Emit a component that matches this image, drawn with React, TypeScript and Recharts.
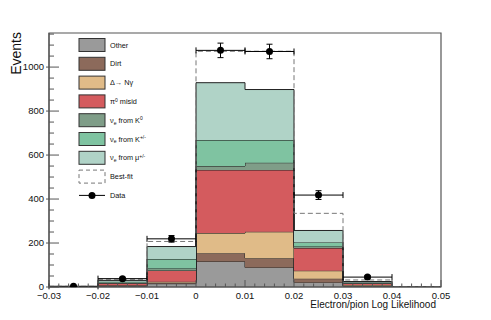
import { Area, ComposedChart, ErrorBar, Legend, Line, ReferenceArea, Scatter, XAxis, YAxis } from 'recharts'

// bin low edges, the last edge closes the final step
const binEdges = [-0.03, -0.02, -0.01, 0, 0.01, 0.02, 0.03, 0.04, 0.05]

// stacked MC components (events per bin), bottom to top
const other = [1, 3, 15, 116, 89, 21, 3, 0, 0]
const dirt = [0.2, 2, 4, 38, 42, 17, 2, 0, 0]
const deltaNGamma = [0.3, 3, 5, 91, 120, 36, 4, 0, 0]
const pi0Misid = [0.5, 9, 51, 287, 281, 103, 7, 0, 0]
const nueK0 = [0.1, 2, 9, 18, 33, 7, 1, 0, 0]
const nueKpm = [0.2, 5, 43, 118, 103, 20, 3, 0, 0]
const nueMu = [0.3, 6, 57, 261, 230, 53, 5, 0, 0]
const bestFit = [3, 35, 207, 1072, 1072, 335, 32, 0, 0]

// data points at bin centres
const dataX = [-0.025, -0.015, -0.005, 0.005, 0.015, 0.025, 0.035]
const dataCounts = [3, 38, 219, 1076, 1071, 418, 45]
const dataErrors = [2, 6, 15, 33, 33, 20, 7]
const dataHalfWidth = [0.005, 0.005, 0.005, 0.005, 0.005, 0.005, 0.005]

const xMajorTicks = [-0.03, -0.02, -0.01, 0, 0.01, 0.02, 0.03, 0.04, 0.05]
const xTickLabels = ['\u22120.03', '\u22120.02', '\u22120.01', '0', '0.01', '0.02', '0.03', '0.04', '0.05']
const yMajorTicks = [0, 200, 400, 600, 800, 1000]
const yTickLabels = ['0', '200', '400', '600', '800', '1000']

const FONT = '"Liberation Sans", Arial, Helvetica, sans-serif'
const AXIS = '#555'

const layers = [
  { key: 'other', color: '#9a9a9a', values: other },
  { key: 'dirt', color: '#8c6a5b', values: dirt },
  { key: 'delta', color: '#e0bb88', values: deltaNGamma },
  { key: 'pi0', color: '#d45b5e', values: pi0Misid },
  { key: 'k0', color: '#7f9d88', values: nueK0 },
  { key: 'kpm', color: '#7fc3a1', values: nueKpm },
  { key: 'mu', color: '#b0d3c7', values: nueMu },
]

const rows = binEdges.map((x, i) => {
  const row: Record<string, number> = { x, fit: bestFit[i] }
  layers.forEach((l) => {
    row[l.key] = l.values[i]
  })
  return row
})

const points = dataX.map((x, i) => ({ x, y: dataCounts[i], ey: dataErrors[i], ex: dataHalfWidth[i] }))

// minor ticks: 5 divisions per major on x, 4 on y
const xTicks: number[] = []
xMajorTicks.forEach((t, i) => {
  if (i === xMajorTicks.length - 1) {
    xTicks.push(t)
    return
  }
  for (let k = 0; k < 5; k++) xTicks.push(Math.round((t + k * 0.002) * 1e6) / 1e6)
})
const yTicks: number[] = []
for (let v = 0; v <= 1150; v += 50) yTicks.push(v)

function XTick(props: any) {
  const { x, y, payload } = props
  const idx = xMajorTicks.findIndex((t) => Math.abs(t - payload.value) < 1e-6)
  const major = idx >= 0
  return (
    <g>
      <line x1={x} x2={x} y1={y} y2={y - (major ? 7 : 3.5)} stroke={AXIS} strokeWidth={1} />
      {major && (
        <text x={x} y={y + 11.5} textAnchor="middle" fontSize={9.5} fontFamily={FONT} fill="#111">
          {xTickLabels[idx]}
        </text>
      )}
    </g>
  )
}

function YTick(props: any) {
  const { x, y, payload } = props
  const idx = yMajorTicks.indexOf(payload.value)
  const major = idx >= 0
  return (
    <g>
      <line x1={major ? x - 3 : x} x2={x + (major ? 10 : 5)} y1={y} y2={y} stroke={AXIS} strokeWidth={1} />
      {major && (
        <text x={x - 5} y={y + 3.4} textAnchor="end" fontSize={9.5} fontFamily={FONT} fill="#111">
          {yTickLabels[idx]}
        </text>
      )}
    </g>
  )
}

const legendRows: { color?: string; kind: string; label: React.ReactNode }[] = [
  { kind: 'box', color: '#9a9a9a', label: 'Other' },
  { kind: 'box', color: '#8c6a5b', label: 'Dirt' },
  { kind: 'box', color: '#e0bb88', label: '\u0394\u2192 N\u03b3' },
  {
    kind: 'box',
    color: '#d45b5e',
    label: (
      <>
        <tspan>π</tspan>
        <tspan dy={-2.5} fontSize={5}>0</tspan>
        <tspan dy={2.5}> misid</tspan>
      </>
    ),
  },
  {
    kind: 'box',
    color: '#7f9d88',
    label: (
      <>
        <tspan>ν</tspan>
        <tspan dy={1.8} fontSize={5}>e</tspan>
        <tspan dy={-1.8}> from K</tspan>
        <tspan dy={-2.5} fontSize={5}>0</tspan>
      </>
    ),
  },
  {
    kind: 'box',
    color: '#7fc3a1',
    label: (
      <>
        <tspan>ν</tspan>
        <tspan dy={1.8} fontSize={5}>e</tspan>
        <tspan dy={-1.8}> from K</tspan>
        <tspan dy={-2.5} fontSize={5}>+/-</tspan>
      </>
    ),
  },
  {
    kind: 'box',
    color: '#b0d3c7',
    label: (
      <>
        <tspan>ν</tspan>
        <tspan dy={1.8} fontSize={5}>e</tspan>
        <tspan dy={-1.8}> from μ</tspan>
        <tspan dy={-2.5} fontSize={5}>+/-</tspan>
      </>
    ),
  },
  { kind: 'dash', label: 'Best-fit' },
  { kind: 'data', label: 'Data' },
]

function LegendBox() {
  return (
    <svg width={130} height={175} style={{ display: 'block' }}>
      {legendRows.map((r, i) => {
        const cy = 9 + i * 18.8
        return (
          <g key={i}>
            {r.kind === 'box' && (
              <rect x={3} y={cy - 6.5} width={26} height={13} fill={r.color} stroke="#333" strokeWidth={1} />
            )}
            {r.kind === 'dash' && (
              <rect x={3} y={cy - 6.5} width={26} height={13} fill="none" stroke="#777" strokeWidth={1} strokeDasharray="4 3" />
            )}
            {r.kind === 'data' && (
              <g>
                <line x1={3} x2={29} y1={cy} y2={cy} stroke="#000" strokeWidth={1} />
                <circle cx={16} cy={cy} r={3.5} fill="#000" />
              </g>
            )}
            <text x={34} y={cy + 2.6} fontSize={7.3} fontFamily={FONT} fill="#111">
              {r.label}
            </text>
          </g>
        )
      })}
    </svg>
  )
}

export default function App() {
  return (
    <div style={{ position: 'absolute', left: 0, top: 0, width: 491, height: 320, background: '#fff' }}>
      <ComposedChart width={491} height={320} data={rows} margin={{ top: 33, right: 50, bottom: 0, left: 0 }}>
        <XAxis
          type="number"
          dataKey="x"
          domain={[-0.03, 0.05]}
          ticks={xTicks}
          interval={0}
          tickSize={0}
          tickMargin={0}
          tick={(p: any) => <XTick {...p} />}
          axisLine={{ stroke: AXIS, strokeWidth: 1.2 }}
          height={33}
          allowDataOverflow
        />
        <YAxis
          type="number"
          domain={[0, 1155]}
          ticks={yTicks}
          interval={0}
          tickSize={0}
          tickMargin={0}
          tick={(p: any) => <YTick {...p} />}
          axisLine={{ stroke: AXIS, strokeWidth: 1.2 }}
          width={49}
          allowDataOverflow
        />
        <Line
          dataKey="fit"
          type="stepAfter"
          stroke="#777"
          strokeWidth={1}
          strokeDasharray="5 3"
          dot={false}
          isAnimationActive={false}
        />
        {layers.map((l) => (
          <Area
            key={l.key}
            dataKey={l.key}
            stackId="mc"
            type="stepAfter"
            fill={l.color}
            fillOpacity={1}
            stroke="#222"
            strokeWidth={1}
            dot={false}
            activeDot={false}
            isAnimationActive={false}
          />
        ))}
        <Scatter
          data={points}
          dataKey="y"
          fill="#000"
          isAnimationActive={false}
          shape={(p: any) => <circle cx={p.cx} cy={p.cy} r={3.5} fill="#000" />}
        >
          <ErrorBar dataKey="ey" direction="y" width={3} stroke="#000" strokeWidth={1} />
          <ErrorBar dataKey="ex" direction="x" width={3} stroke="#000" strokeWidth={1} />
        </Scatter>
        <ReferenceArea x1={-0.03} x2={0.05} y1={0} y2={1155} fill="none" stroke={AXIS} strokeWidth={1.2} ifOverflow="visible" />
        <Legend
          layout="horizontal"
          verticalAlign="middle"
          align="center"
          wrapperStyle={{ left: 76, top: 36, width: 130, height: 175 }}
          content={() => <LegendBox />}
        />
      </ComposedChart>
      <svg width={491} height={320} style={{ position: 'absolute', left: 0, top: 0, pointerEvents: 'none' }}>
        <text transform="translate(20.5,32) rotate(-90)" textAnchor="end" fontSize={14} fontFamily={FONT} fill="#111">
          Events
        </text>
        <text x={436} y={308} textAnchor="end" fontSize={10} fontFamily={FONT} fill="#111">
          Electron/pion Log Likelihood
        </text>
      </svg>
    </div>
  )
}
